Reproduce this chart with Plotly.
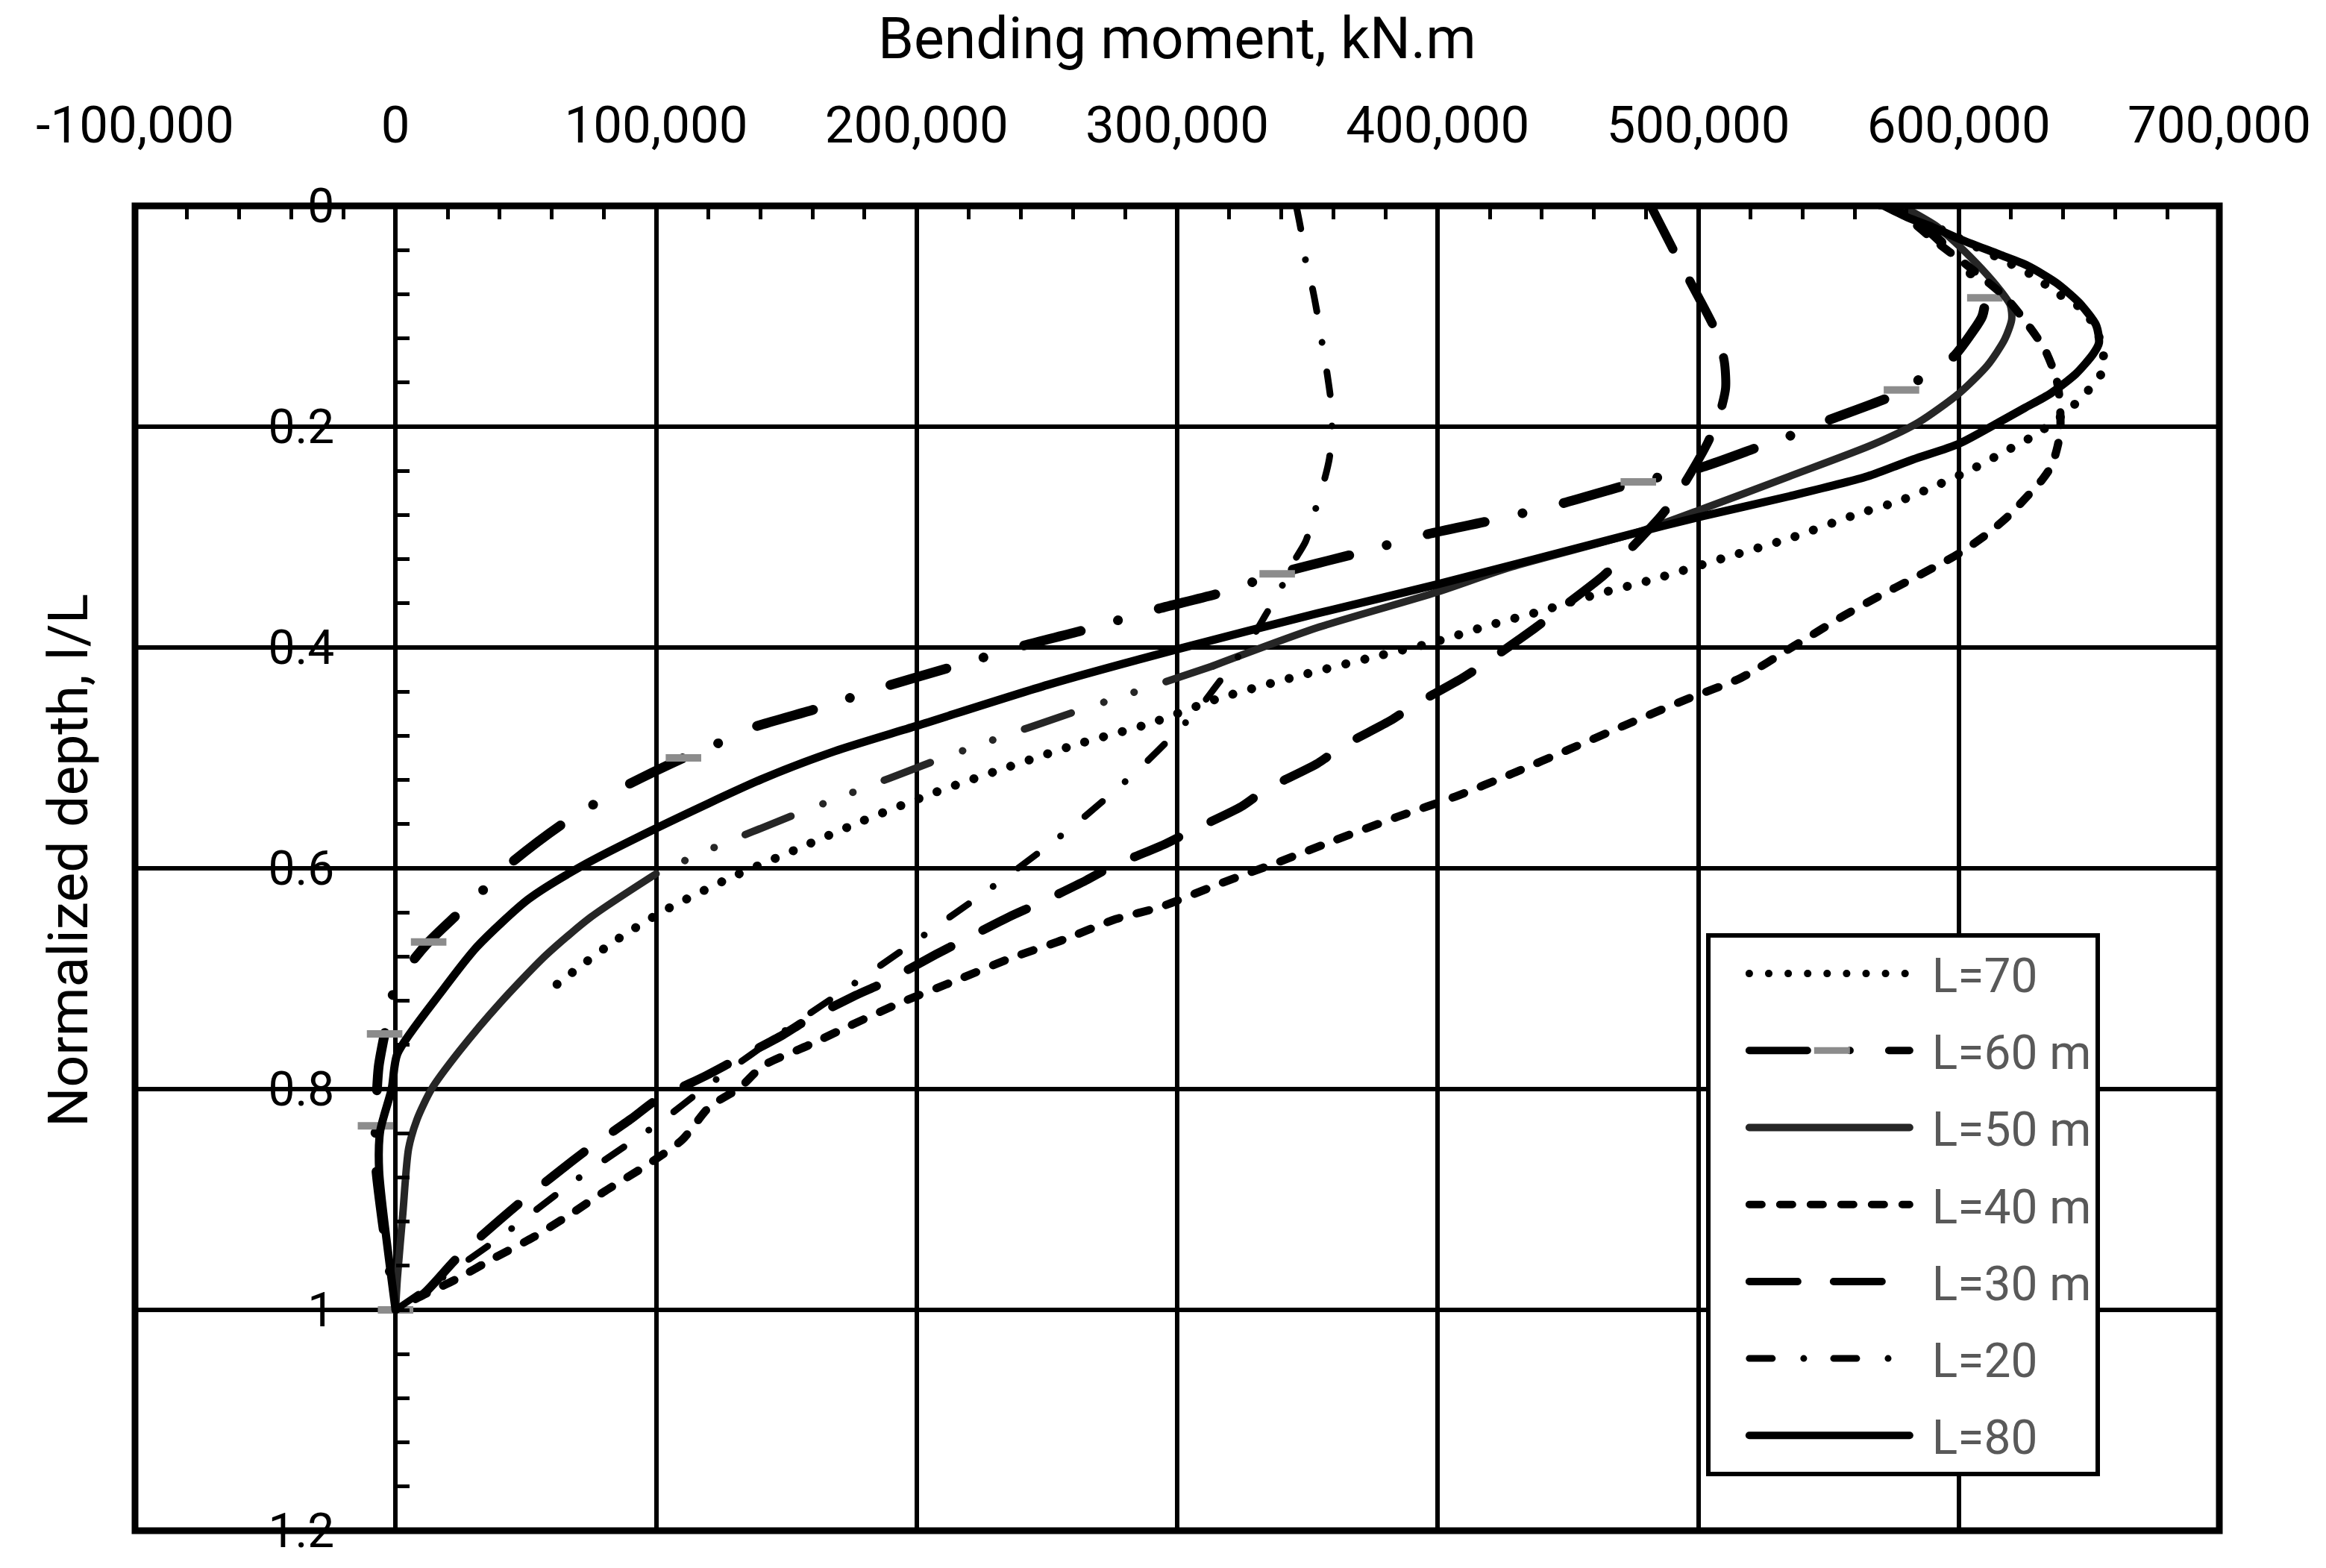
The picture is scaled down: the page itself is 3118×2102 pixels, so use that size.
# %%
import plotly.graph_objects as go

# %% Data: normalized depth l/L and bending moment (kN.m)
L70_depth = [0, 0.02, 0.046, 0.0619, 0.080, 0.0955, 0.1187, 0.134, 0.151, 0.165, 0.188, 0.2077,
             0.224, 0.24, 0.254, 0.267, 0.28, 0.30, 0.3195, 0.339, 0.352, 0.367, 0.38, 0.395,
             0.41, 0.428, 0.447, 0.469, 0.488, 0.51, 0.531, 0.557, 0.583, 0.609, 0.639, 0.665,
             0.687, 0.708]
L70_moment = [573000, 592000, 614300, 627500, 638500, 648400, 653800, 655500, 654900, 650500,
              640700, 629100, 616500, 603800, 590700, 577500, 560000, 536500, 509100, 481700,
              460700, 439700, 419600, 398900, 373000, 343000, 314800, 289300, 261100, 233000,
              207400, 179300, 153700, 128100, 102600, 84700, 71900, 60400]

L60_depth = [0, 0.015, 0.033, 0.048, 0.066, 0.0833, 0.1, 0.115, 0.137, 0.156, 0.1667, 0.173,
             0.195, 0.207, 0.218, 0.237, 0.25, 0.27, 0.285, 0.298, 0.315, 0.3333, 0.35, 0.366,
             0.384, 0.399, 0.418, 0.4355, 0.456, 0.473, 0.487, 0.5, 0.527, 0.56, 0.597, 0.62,
             0.642, 0.6667, 0.689, 0.717, 0.75, 0.78, 0.8333, 0.87, 0.92, 1.0]
L60_moment = [576000, 585000, 593400, 600000, 606000, 610000, 609000, 605000, 597800, 585700,
              578000, 573600, 549000, 536700, 523600, 501000, 477000, 447000, 420500, 395000,
              368500, 338400, 317400, 291000, 264600, 240000, 213000, 187700, 160800, 136400,
              123600, 110500, 87000, 64000, 43400, 33500, 23600, 12700, 5000, -1500, -4200,
              -6500, -7700, -7500, -5000, 0]
# depths that carry the grey dash marker on L=60 m
L60_marked = [0, 0.0833, 0.1667, 0.25, 0.3333, 0.5, 0.6667, 0.75, 0.8333, 1.0]

# L=50 m: solid, then a dash-dot-dot stretch, then solid again
L50a_depth = [0, 0.018, 0.036, 0.057, 0.075, 0.090, 0.103, 0.121, 0.1445, 0.170, 0.196, 0.216,
              0.245, 0.276, 0.296, 0.328, 0.35, 0.382, 0.4167]
L50a_moment = [578000, 591200, 600000, 608800, 615400, 619800, 620300, 617600, 611000, 600000,
               584600, 567200, 535000, 500000, 476300, 426900, 399500, 353900, 313700]
L50b_depth = [0.4167, 0.443, 0.459, 0.486, 0.5035, 0.5336, 0.551, 0.583, 0.605]
L50b_moment = [313700, 280300, 259800, 226600, 206100, 172900, 153700, 120500, 100000]
L50c_depth = [0.605, 0.644, 0.679, 0.722, 0.765, 0.80, 0.827, 0.854, 0.9125, 0.971, 1.0]
L50c_moment = [100000, 75100, 57600, 40100, 24700, 13800, 8300, 5000, 2800, 700, 0]

L40_depth = [0, 0.03, 0.054, 0.0645, 0.083, 0.106, 0.13, 0.156, 0.175, 0.201, 0.217, 0.235,
             0.248, 0.26, 0.281, 0.297, 0.315, 0.328, 0.338, 0.354, 0.371, 0.399, 0.4275, 0.447,
             0.4706, 0.492, 0.514, 0.535, 0.553, 0.574, 0.594, 0.613, 0.635, 0.646, 0.665, 0.682,
             0.7017, 0.721, 0.743, 0.76, 0.779, 0.799, 0.816, 0.846, 0.868, 0.893, 0.912, 0.934,
             0.953, 0.973, 0.988, 1.0]
L40_moment = [575000, 590000, 603300, 608800, 618000, 626000, 633000, 637400, 638700, 639000,
              638000, 635700, 632000, 627500, 619000, 611000, 600000, 590000, 582000, 569000,
              556000, 536500, 516400, 495400, 471700, 450700, 428800, 406800, 385000, 361200,
              339300, 317400, 293600, 276500, 256000, 235500, 215000, 194600, 174000, 158800,
              141000, 132000, 120500, 110000, 97000, 80000, 68000, 53000, 37900, 22600, 9400, 0]

L30_depth = [0, 0.046, 0.069, 0.115, 0.141, 0.165, 0.19, 0.2146, 0.259, 0.28, 0.318, 0.335,
             0.367, 0.383, 0.412, 0.4275, 0.453, 0.466, 0.49, 0.505, 0.529, 0.544, 0.566, 0.579,
             0.598, 0.611, 0.633, 0.644, 0.667, 0.678, 0.704, 0.715, 0.738, 0.751, 0.775, 0.788,
             0.81, 0.827, 0.856, 0.903, 0.953, 0.986, 1.0]
L30_moment = [481800, 491800, 497000, 507000, 510000, 510500, 508000, 503600, 492700, 486000,
              471000, 463600, 446000, 437000, 419600, 409600, 390400, 382000, 363000, 353900,
              333800, 324700, 305500, 294500, 275200, 265000, 245800, 235500, 216400, 207400,
              187000, 176700, 157500, 148600, 129400, 119000, 100000, 90400, 72900, 47700,
              23600, 10500, 0]

L20_depth = [0, 0.0216, 0.0497, 0.0756, 0.0993, 0.125, 0.151, 0.177, 0.203, 0.229, 0.2526,
             0.2785, 0.304, 0.326, 0.349, 0.371, 0.393, 0.4145, 0.436, 0.4555, 0.51, 0.56,
             0.608, 0.653, 0.697, 0.74, 0.80, 0.831, 0.846, 0.876, 0.891, 0.938, 1.0]
L20_moment = [345700, 347500, 349300, 352000, 353900, 355700, 357500, 359000, 359400, 358400,
              356000, 352600, 349300, 343800, 339300, 333800, 328300, 321400, 314600, 308200,
              285400, 261000, 234300, 207400, 180600, 153700, 118000, 101000, 91600, 73000,
              64200, 37900, 0]

L80_depth = [0, 0.0103, 0.0194, 0.0297, 0.0439, 0.0542, 0.0697, 0.0877, 0.108, 0.124, 0.134,
             0.152, 0.170, 0.183, 0.196, 0.2155, 0.2297, 0.245, 0.263, 0.282, 0.296, 0.343,
             0.369, 0.4016, 0.4337, 0.471, 0.494, 0.519, 0.564, 0.599, 0.628, 0.671, 0.71,
             0.768, 0.80, 0.838, 0.874, 1.0]
L80_moment = [571400, 580200, 590100, 600000, 615400, 626400, 637400, 646200, 652700, 653800,
              651600, 645000, 635200, 625300, 615400, 600000, 582400, 565000, 535000, 500000,
              476300, 399500, 353900, 300000, 250500, 200000, 168500, 140800, 99800, 70700,
              51000, 31300, 18200, 700, -1500, -5900, -6300, 0]

x_ticks = [-100000, 0, 100000, 200000, 300000, 400000, 500000, 600000, 700000]
x_tick_text = ["-100,000", "0", "100,000", "200,000", "300,000", "400,000", "500,000",
               "600,000", "700,000"]
y_ticks = [0, 0.2, 0.4, 0.6, 0.8, 1.0, 1.2]
y_tick_text = ["0", "0.2", "0.4", "0.6", "0.8", "1", "1.2"]

FONT = "Roboto"
GREY_MARK = "#8c8c8c"

# %% Curves
fig = go.Figure()


def add_curve(depth, moment, name, dash, width, color="black", group=None, showlegend=True):
    fig.add_trace(go.Scatter(
        x=moment, y=depth, mode="lines", name=name,
        legendgroup=group or name, showlegend=showlegend,
        line=dict(color=color, width=width, dash=dash, shape="spline", smoothing=0.7),
    ))


add_curve(L70_depth, L70_moment, "L=70", "0.1px,26px", 12)

mark_colors = [GREY_MARK if d in L60_marked else "rgba(0,0,0,0)" for d in L60_depth]
fig.add_trace(go.Scatter(
    x=L60_moment, y=L60_depth, mode="lines+markers", name="L=60 m", legendgroup="L=60 m",
    line=dict(color="black", width=13, dash="78px,57px,0.1px,52px", shape="spline", smoothing=0.7),
    marker=dict(symbol="line-ew", size=34, line=dict(width=10, color=mark_colors)),
))

add_curve(L50a_depth, L50a_moment, "L=50 m", "solid", 10, color="#262626", group="L50")
add_curve(L50b_depth, L50b_moment, "L=50 m", "66px,45px,0.1px,43px,0.1px,46px", 10,
          color="#262626", group="L50", showlegend=False)
add_curve(L50c_depth, L50c_moment, "L=50 m", "solid", 10, color="#262626", group="L50",
          showlegend=False)
add_curve(L40_depth, L40_moment, "L=40 m", "17px,24px", 11)
add_curve(L30_depth, L30_moment, "L=30 m", "65px,48px", 12)
add_curve(L20_depth, L20_moment, "L=20", "31px,42px,0.1px,40px", 9)
add_curve(L80_depth, L80_moment, "L=80", "solid", 11)

# %% Axes
fig.update_xaxes(
    range=[-100000, 700000], side="top", tickvals=x_ticks, ticktext=x_tick_text,
    showgrid=True, gridcolor="black", gridwidth=6, zeroline=False, showline=False,
    ticks="inside", ticklen=18, tickwidth=5, tickcolor="black",
    minor=dict(dtick=20000, ticks="inside", ticklen=18, tickwidth=5, tickcolor="black", showgrid=False),
    tickfont=dict(family=FONT, size=69, color="black"), ticklabelstandoff=70,
)
fig.update_yaxes(
    range=[1.2, 0], anchor="free", position=0.125, tickvals=y_ticks, ticktext=y_tick_text,
    showgrid=True, gridcolor="black", gridwidth=6, zeroline=False, showline=False,
    ticks="inside", ticklen=18, tickwidth=5, tickcolor="black",
    minor=dict(dtick=0.04, ticks="inside", ticklen=18, tickwidth=5, tickcolor="black", showgrid=False),
    tickfont=dict(family=FONT, size=64, color="black"), ticklabelstandoff=82,
)

fig.add_shape(type="rect", xref="paper", yref="paper", x0=0, x1=1, y0=0, y1=1,
              line=dict(color="black", width=9), layer="above")

fig.add_annotation(text="Bending moment, kN.m", xref="paper", yref="paper", x=0.5, y=1.126,
                   xanchor="center", yanchor="middle", showarrow=False,
                   font=dict(family=FONT, size=77, color="black"))
fig.add_annotation(text="Normalized depth, l/L", xref="paper", yref="paper", x=-0.032, y=0.506,
                   xanchor="center", yanchor="middle", textangle=-90, showarrow=False,
                   font=dict(family=FONT, size=75, color="black"))

fig.update_layout(
    width=3118, height=2102,
    margin=dict(l=173, r=151, t=268, b=58),
    paper_bgcolor="white", plot_bgcolor="white",
    showlegend=True,
    legend=dict(x=0.7537, y=0.451, xanchor="left", yanchor="top", bgcolor="white",
                bordercolor="black", borderwidth=6, itemwidth=287, tracegroupgap=17,
                font=dict(family=FONT, size=64, color="#595959")),
)

# round line caps so dotted patterns draw as round dots; longer legend samples like the original
fig.write_html("out.html", post_script=(
    "document.querySelectorAll('path.js-line').forEach(function(p){"
    "p.style.strokeLinecap='round';p.style.strokeLinejoin='round';});"
    "document.querySelectorAll('.legend path.js-line').forEach(function(p){"
    "p.setAttribute('d','M52,0h215');});"
    "document.querySelectorAll('.legend path.scatterpts').forEach(function(p){"
    "p.setAttribute('transform','translate(163,0)');p.setAttribute('d','M24,0H-24');"
    "p.style.strokeWidth='9px';});"
))
